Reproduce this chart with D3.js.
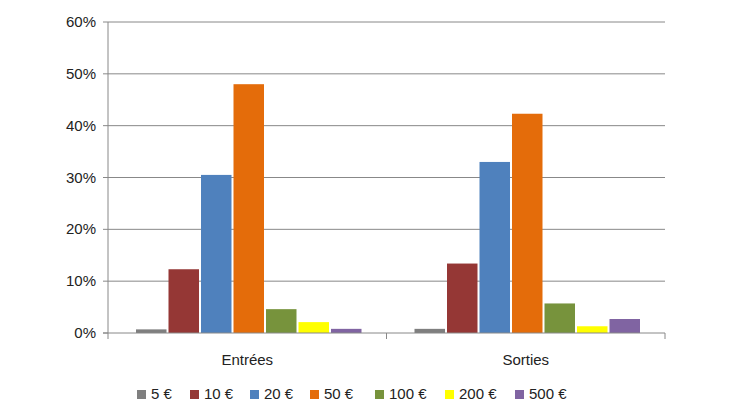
<!DOCTYPE html><html><head><meta charset="utf-8"><script src="https://cdn.jsdelivr.net/npm/d3@7"></script>
<style>body{margin:0;background:#fff}svg{font-family:"Liberation Sans",Arial,sans-serif}</style></head><body>
<svg width="730" height="410"></svg>
<script>
const categories=["Entrées","Sorties"];
const seriesNames=["5 €","10 €","20 €","50 €","100 €","200 €","500 €"];
const entrees=[0.7,12.3,30.5,48.0,4.6,2.1,0.8];
const sorties=[0.8,13.4,33.0,42.3,5.7,1.3,2.7];
const colors=["#7f7f7f","#953735","#4f81bd","#e46c0a","#77933c","#ffff00","#8064a2"];
const yTicks=[0,10,20,30,40,50,60];
const values=[entrees,sorties];
const svg=d3.select("svg");
const L=108,R=665,T=22,B=333;
const x=d3.scaleBand().domain(categories).range([L,R]);
const y=d3.scaleLinear().domain([0,60]).range([B,T]);
const xi=d3.scaleBand().domain(seriesNames).range([27,x.bandwidth()-24]).paddingInner(0);
svg.append("g").selectAll("line").data(yTicks.slice(1)).join("line")
 .attr("x1",L).attr("x2",R).attr("y1",d=>y(d)).attr("y2",d=>y(d)).attr("stroke","#888").attr("stroke-width",1);
svg.append("line").attr("x1",L).attr("x2",L).attr("y1",T).attr("y2",B).attr("stroke","#888");
categories.forEach((c,ci)=>{
 svg.append("g").selectAll("rect").data(values[ci]).join("rect")
  .attr("x",(d,i)=>x(c)+xi(seriesNames[i])+1).attr("width",xi.bandwidth()-2)
  .attr("y",d=>y(d)).attr("height",d=>B-y(d)).attr("fill",(d,i)=>colors[i]);
});
svg.append("line").attr("x1",L-5).attr("x2",R).attr("y1",B).attr("y2",B).attr("stroke","#888");
[L,x(categories[1]),R].forEach(v=>svg.append("line").attr("x1",v).attr("x2",v).attr("y1",B).attr("y2",B+6).attr("stroke","#888"));
svg.append("g").selectAll("line").data(yTicks).join("line").attr("x1",L-5).attr("x2",L).attr("y1",d=>y(d)).attr("y2",d=>y(d)).attr("stroke","#888");
svg.append("g").selectAll("text").data(yTicks).join("text").attr("x",L-12).attr("y",d=>y(d)+5)
 .attr("text-anchor","end").attr("font-size",15).attr("fill","#222").text(d=>d+"%");
svg.append("g").selectAll("text").data(categories).join("text").attr("x",d=>x(d)+x.bandwidth()/2).attr("y",365)
 .attr("text-anchor","middle").attr("font-size",15).attr("fill","#222").text(d=>d);
const lg=svg.append("g");
const lx=[137,190,250,310,375,445,515];
seriesNames.forEach((s,i)=>{
 lg.append("rect").attr("x",lx[i]).attr("y",390).attr("width",9).attr("height",9).attr("fill",colors[i]);
 lg.append("text").attr("x",lx[i]+14).attr("y",399).attr("font-size",15).attr("fill","#222").text(s);
});
</script></body></html>
